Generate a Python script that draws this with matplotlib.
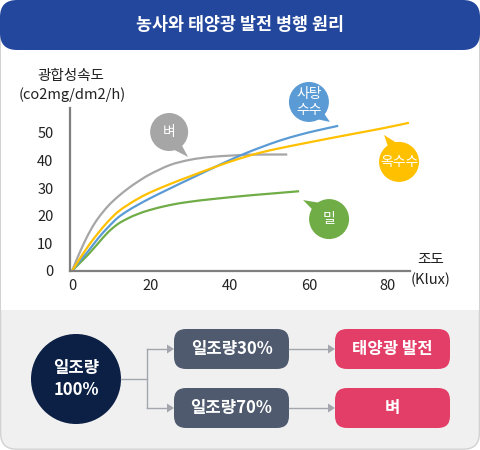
import matplotlib
matplotlib.use('Agg')
import matplotlib.pyplot as plt
from matplotlib.patches import FancyBboxPatch, Circle, Polygon, Rectangle, PathPatch
from matplotlib.path import Path
import numpy as np

plt.rcParams['font.family'] = ['Noto Sans CJK KR', 'DejaVu Sans']

# ---------------- data ----------------
title = '농사와 태양광 발전 병행 원리'
y_label = ['광합성속도', '(co2mg/dm2/h)']
x_label = ['조도', '(Klux)']
x_ticks = [0, 20, 40, 60, 80]
y_ticks = [0, 10, 20, 30, 40, 50]

rice_x = [0, 1.5, 3.2, 4.9, 6.6, 9.1, 11.6, 14.2, 16.6, 19.7, 24.8, 29.9, 34.9, 40, 44.2, 49, 54.5]
rice_y = [0, 5.2, 10.6, 15.3, 19.1, 23.5, 26.9, 29.9, 32.3, 35.0, 38.4, 40.3, 41.3, 41.8, 42.1, 42.2, 42.2]

corn_x = [0, 1.5, 4, 6.6, 9.1, 11.6, 14.2, 16.6, 19.7, 24.8, 29.9, 34.9, 40, 44.2, 48, 52.7, 57.5, 65, 72, 79, 85.3]
corn_y = [0, 3.4, 8.8, 13.7, 17.9, 21.4, 24.0, 26.1, 28.4, 31.5, 34.3, 37.0, 39.6, 41.5, 43.0, 44.5, 45.9, 48.0, 49.9, 51.8, 53.7]

cane_x = [0, 1.5, 4, 6.6, 9.1, 11.6, 14.2, 16.6, 19.7, 24.8, 29.9, 34.9, 40, 44.2, 48, 52.7, 57.5, 62, 67.4]
cane_y = [0, 2.8, 7, 11.8, 15.8, 19.3, 21.9, 23.9, 26.3, 29.9, 33.4, 36.8, 40.2, 42.8, 44.9, 47.3, 49.3, 50.9, 52.6]

wheat_x = [0, 1.5, 4, 6.6, 9.1, 11.6, 14.2, 16.6, 19.7, 24.8, 29.9, 35.8, 44.2, 50, 57.5]
wheat_y = [0, 2.2, 5.8, 10, 14.0, 17.0, 19.1, 20.6, 22.1, 23.9, 25.1, 26.1, 27.3, 28.0, 28.9]

series_names = ['벼', '사탕\n수수', '옥수수', '밀']
series_colors = ['#A6A6A6', '#5B9BD5', '#FFC000', '#70AD47']
# bubble tip positions (data coordinates)
bubble_tip_x = [29.4, 65.3, 79.0, 58.5]
bubble_tip_y = [41.3, 54.0, 49.3, 25.7]

flow_root = ['일조량', '100%']
flow_mid = ['일조량30%', '일조량70%']
flow_end = ['태양광 발전', '벼']

# ---------------- figure ----------------
W, H = 480, 450
fig = plt.figure(figsize=(4.8, 4.5), dpi=100)
fig.patch.set_facecolor('white')

bg = fig.add_axes([0, 0, 1, 1], zorder=0)
bg.set_xlim(0, W); bg.set_ylim(H, 0); bg.axis('off')

# card background
bg.add_patch(FancyBboxPatch((0.6, 20), W - 1.2, H - 20.8,
                            boxstyle='round,pad=0,rounding_size=16',
                            fc='#F0F0F0', ec='#D2D2D2', lw=1.0))
bg.add_patch(Rectangle((1.2, 20), W - 2.4, 290, fc='white', ec='none'))
# header
bg.add_patch(FancyBboxPatch((0, 0), W, 50,
                            boxstyle='round,pad=0,rounding_size=17',
                            fc='#23479D', ec='none'))
bg.text(240, 25, title, color='white', fontsize=12.5, fontweight='bold',
        ha='center', va='center')

# axis titles
bg.text(71, 76, y_label[0], fontsize=10.5, ha='center', va='center', color='#222222')
bg.text(72, 95, y_label[1], fontsize=10.5, ha='center', va='center', color='#222222')
bg.text(431, 260, x_label[0], fontsize=10.5, ha='center', va='center', color='#222222')
bg.text(431, 280, x_label[1], fontsize=10.5, ha='center', va='center', color='#222222')

# ---------------- flow diagram ----------------
line_c = '#A3A7AD'
bg.add_patch(Circle((76, 379), 45, fc='#0C1F45', ec='none'))
bg.text(76, 368, flow_root[0], color='white', fontsize=12, fontweight='bold', ha='center', va='center')
bg.text(76, 390, flow_root[1], color='white', fontsize=12, fontweight='bold', ha='center', va='center')

bg.plot([121, 147], [379, 379], color=line_c, lw=1.0)
bg.plot([147, 147], [349, 408], color=line_c, lw=1.0)

def arrow(x0, x1, y):
    bg.plot([x0, x1 - 5], [y, y], color=line_c, lw=1.0)
    bg.add_patch(Polygon([[x1 - 7, y - 4.5], [x1, y], [x1 - 7, y + 4.5]], closed=True,
                         fc=line_c, ec='none'))

rows_y = [349, 408]
for i, yy in enumerate(rows_y):
    arrow(147, 174, yy)
    bg.add_patch(FancyBboxPatch((174, yy - 20), 115, 40,
                                boxstyle='round,pad=0,rounding_size=12',
                                fc='#4F5A6E', ec='none'))
    bg.text(231.5, yy, flow_mid[i], color='white', fontsize=12, fontweight='bold',
            ha='center', va='center')
    arrow(289, 335, yy)
    bg.add_patch(FancyBboxPatch((335, yy - 20), 115, 40,
                                boxstyle='round,pad=0,rounding_size=12',
                                fc='#E33E67', ec='none'))
    bg.text(392.5, yy, flow_end[i], color='white', fontsize=12, fontweight='bold',
            ha='center', va='center')

# ---------------- chart ----------------
left, right, top, bottom = 69.5, 410, 108, 271
x_scale = 3.95
y_scale = 2.76
ax = fig.add_axes([left / W, (H - bottom) / H, (right - left) / W, (bottom - top) / H], zorder=1)
ax.patch.set_alpha(0)
ax.set_xlim(-(72 - left) / x_scale, (right - 72) / x_scale)
ax.set_ylim(0, (bottom - top) / y_scale)
for s in ['top', 'right']:
    ax.spines[s].set_visible(False)
for s in ['left', 'bottom']:
    ax.spines[s].set_color('#7F7F7F')
    ax.spines[s].set_linewidth(1.6)
ax.set_xticks(x_ticks)
ax.set_yticks(y_ticks)
ax.tick_params(length=0, labelsize=10.5, labelcolor='#222222')
ax.tick_params(axis='y', pad=11.5)
ax.tick_params(axis='x', pad=6)


def smooth_path(xs, ys):
    """Smoothed line style (Catmull-Rom drawn as cubic Bezier) through the points."""
    pts = np.column_stack([xs, ys]).astype(float)
    n = len(pts)
    verts = [pts[0]]
    codes = [Path.MOVETO]
    for k in range(n - 1):
        p0 = pts[k - 1] if k > 0 else pts[k]
        p1 = pts[k]
        p2 = pts[k + 1]
        p3 = pts[k + 2] if k + 2 < n else pts[k + 1]
        c1 = p1 + (p2 - p0) / 6.0
        c2 = p2 - (p3 - p1) / 6.0
        verts += [c1, c2, p2]
        codes += [Path.CURVE4] * 3
    return Path(verts, codes)


series = [(rice_x, rice_y), (cane_x, cane_y), (corn_x, corn_y), (wheat_x, wheat_y)]
order = [3, 0, 1, 2]
for i in order:
    xs, ys = series[i]
    ax.add_patch(PathPatch(smooth_path(xs, ys), fc='none', ec=series_colors[i], lw=1.6,
                           joinstyle='round', capstyle='butt', clip_on=False))

# ---------------- bubbles ----------------
ov = fig.add_axes([0, 0, 1, 1], zorder=2)
ov.set_xlim(0, W); ov.set_ylim(H, 0); ov.axis('off')
ov.patch.set_alpha(0)

bubble_offsets = [(-19, -25), (-21, -20), (15, 27), (26, 19)]
bubble_r = [19, 20, 20, 20]
for i in range(4):
    disp = ax.transData.transform((bubble_tip_x[i], bubble_tip_y[i]))
    tx, ty = ov.transData.inverted().transform(disp)
    cx, cy = tx + bubble_offsets[i][0], ty + bubble_offsets[i][1]
    r = bubble_r[i]
    ang = np.arctan2(ty - cy, tx - cx)
    p1 = (cx + r * 0.85 * np.cos(ang + 0.55), cy + r * 0.85 * np.sin(ang + 0.55))
    p2 = (cx + r * 0.85 * np.cos(ang - 0.15), cy + r * 0.85 * np.sin(ang - 0.15))
    ov.add_patch(Polygon([p1, (tx, ty), p2], closed=True, fc=series_colors[i], ec='none'))
    ov.add_patch(Circle((cx, cy), r, fc=series_colors[i], ec='none'))
    ov.text(cx, cy, series_names[i], color='white', fontsize=10, ha='center', va='center',
            linespacing=1.15)

fig.savefig('out.png', dpi=100, facecolor='white')
